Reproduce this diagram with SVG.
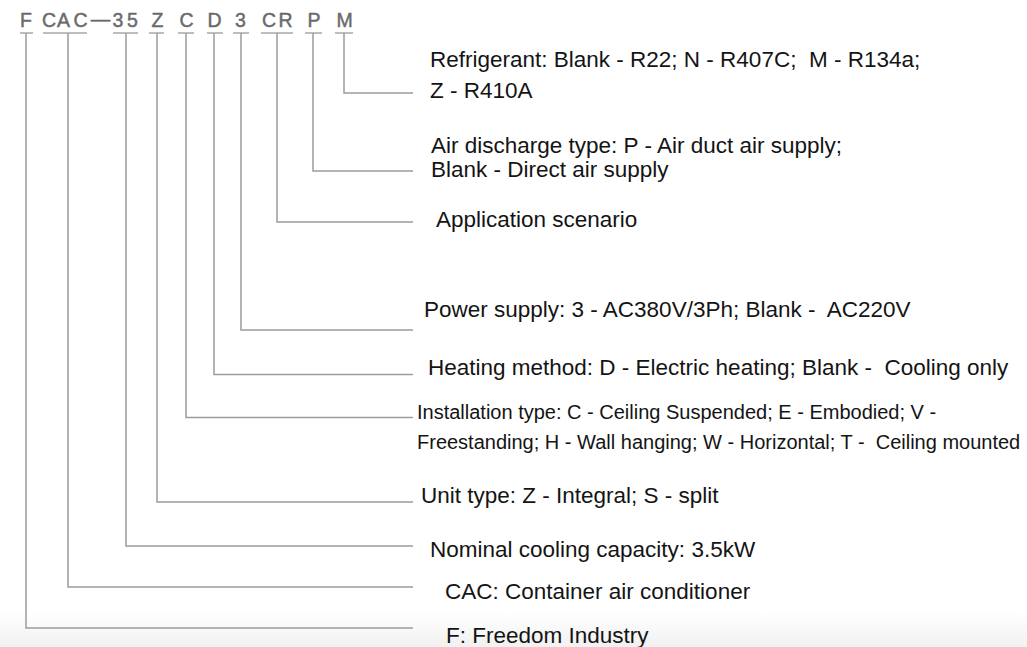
<svg xmlns="http://www.w3.org/2000/svg" width="1027" height="647" viewBox="0 0 1027 647">
<defs>
<style>
.code{font-family:"Liberation Sans",Arial,sans-serif;font-size:19.5px;fill:#6a6a6a;stroke:#6a6a6a;stroke-width:0.45;text-anchor:middle}
.lbl{font-family:"Liberation Sans",Arial,sans-serif;font-size:22.5px;fill:#141414;white-space:pre}
.sm{font-size:20px}
.ln{fill:none;stroke:#9c9c9c;stroke-width:1.5}
.ul{fill:none;stroke:#a8a8a8;stroke-width:1.5}
</style>
<linearGradient id="bg" x1="0" y1="0" x2="0" y2="1">
<stop offset="0" stop-color="#ffffff"/>
<stop offset="1" stop-color="#f1f1f1"/>
</linearGradient>
</defs>
<rect width="1027" height="647" fill="#ffffff"/>
<rect y="612" width="1027" height="35" fill="url(#bg)"/>
<g id="connectors">
<path class="ul" d="M20,33H33M43,33H87M113,33H138M149,33H164M178,33H194M207,33H223M233,33H249M261,33H293M305,33H322M335,33H353"/>
<path class="ln" d="M344,33V93H413"/>
<path class="ln" d="M313,33V171H413"/>
<path class="ln" d="M277,33V222H413"/>
<path class="ln" d="M241,33V330H413"/>
<path class="ln" d="M214,33V374.5H413"/>
<path class="ln" d="M186,33V417.5H413"/>
<path class="ln" d="M157,33V502H413"/>
<path class="ln" d="M126,33V546H413"/>
<path class="ln" d="M68,33V587H413"/>
<path class="ln" d="M26,33V628H413"/>
</g>
<g id="node-M">
<text class="code" x="344.5" y="27">M</text>
<text class="lbl" x="430" y="67" xml:space="preserve">Refrigerant: Blank - R22; N - R407C;  M - R134a;</text>
<text class="lbl" x="430" y="98">Z - R410A</text>
</g>
<g id="node-P">
<text class="code" x="314" y="27">P</text>
<text class="lbl" x="431" y="153">Air discharge type: P - Air duct air supply;</text>
<text class="lbl" x="431" y="177">Blank - Direct air supply</text>
</g>
<g id="node-CR">
<text class="code" x="269" y="27">C</text>
<text class="code" x="285.5" y="27">R</text>
<text class="lbl" x="436" y="227">Application scenario</text>
</g>
<g id="node-3">
<text class="code" x="240.5" y="27">3</text>
<text class="lbl" x="424" y="317" xml:space="preserve">Power supply: 3 - AC380V/3Ph; Blank -  AC220V</text>
</g>
<g id="node-D">
<text class="code" x="214.5" y="27">D</text>
<text class="lbl" x="428" y="375" xml:space="preserve">Heating method: D - Electric heating; Blank -  Cooling only</text>
</g>
<g id="node-C">
<text class="code" x="186.5" y="27">C</text>
<text class="lbl sm" x="417" y="419">Installation type: C - Ceiling Suspended; E - Embodied; V -</text>
<text class="lbl sm" x="417" y="449" xml:space="preserve">Freestanding; H - Wall hanging; W - Horizontal; T -  Ceiling mounted</text>
</g>
<g id="node-Z">
<text class="code" x="157.5" y="27">Z</text>
<text class="lbl" x="421" y="503">Unit type: Z - Integral; S - split</text>
</g>
<g id="node-35">
<text class="code" x="100.5" y="26" font-size="15" stroke-width="0">—</text>
<text class="code" x="118" y="27">3</text>
<text class="code" x="132.5" y="27">5</text>
<text class="lbl" x="430" y="557">Nominal cooling capacity: 3.5kW</text>
</g>
<g id="node-CAC">
<text class="code" x="49" y="27">C</text>
<text class="code" x="63.5" y="27">A</text>
<text class="code" x="80.5" y="27">C</text>
<text class="lbl" x="445" y="599">CAC: Container air conditioner</text>
</g>
<g id="node-F">
<text class="code" x="26" y="27">F</text>
<text class="lbl" x="446" y="643">F: Freedom Industry</text>
</g>
</svg>
